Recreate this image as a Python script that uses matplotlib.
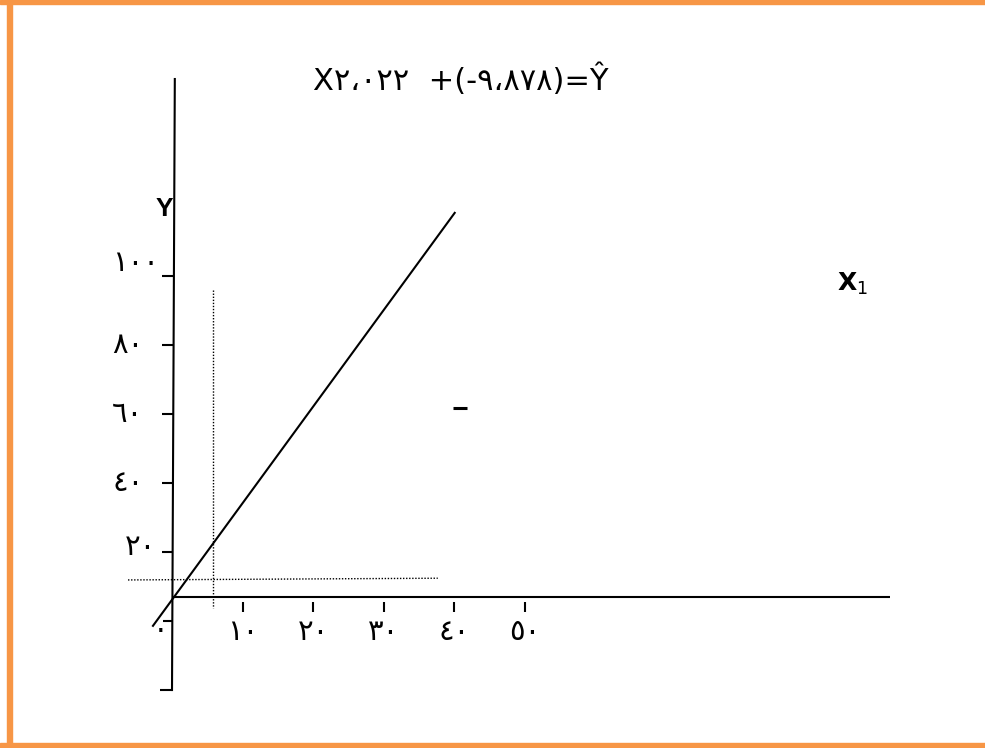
import matplotlib
matplotlib.use('Agg')
import matplotlib.pyplot as plt
from matplotlib.patches import Rectangle

plt.rcParams['font.family'] = ['DejaVu Sans']
plt.rcParams['mathtext.fontset'] = 'dejavusans'

# ---- data ----
y_tick_values = [-20, 0, 20, 40, 60, 80, 100]
y_tick_labels = ['', '', '٢٠', '٤٠', '٦٠', '٨٠', '١٠٠']
x_tick_values = [10, 20, 30, 40, 50]
x_tick_labels = ['١٠', '٢٠', '٣٠', '٤٠', '٥٠']
origin_label = '٠'
line_x = [-2.7, 40.1]
line_y = [-1.4, 118.3]
guide_x = 5.8
guide_y = 11.9
equation = 'X٢،٠٢٢  +(-٩،٨٧٨)=Ŷ'

# ---- figure ----
W, H = 985, 748
fig = plt.figure(figsize=(W / 100, H / 100), dpi=100)
ax = fig.add_axes([0, 0, 1, 1])
ax.axis('off')
sx, sy = 7.05, 3.45      # pixels per data unit
ox, oy = 172, 621        # pixel position of data (0, 0)
ax.set_xlim(-ox / sx, (W - ox) / sx)
ax.set_ylim((oy - H) / sy, oy / sy)

orange = '#F79646'
# border (top, left, bottom)
fig.patches.append(Rectangle((0, 1 - 4 / H), 1, 4 / H, transform=fig.transFigure,
                             color=orange, zorder=0))
fig.patches.append(Rectangle((7 / W, 0), 5 / W, 1, transform=fig.transFigure,
                             color=orange, zorder=0))
fig.patches.append(Rectangle((0, 0), 1, 5 / H, transform=fig.transFigure,
                             color=orange, zorder=0))

lw = 1.5
tick_fs = 21
# y axis
ax.plot([0.4, 0.0], [157.4, -20.3], color='black', lw=lw, solid_capstyle='butt')
# x axis
x_axis_level = 7.0
ax.plot([0, 101.8], [x_axis_level, x_axis_level], color='black', lw=lw,
        solid_capstyle='butt')

# y ticks
for v, lab in zip(y_tick_values, y_tick_labels):
    left = -1.42 if v > 0 else (-1.28 if v == 0 else -1.7)
    ax.plot([left, 0.2], [v, v], color='black', lw=lw, solid_capstyle='butt')
    if lab:
        dy = 3.8 if v == 100 else (1.5 if v == 20 else 0)
        lx = -6.7 if v == 20 else -8.5
        ax.text(lx, v + dy, lab, ha='left', va='center', fontsize=tick_fs)

# x ticks
for v, lab in zip(x_tick_values, x_tick_labels):
    ax.plot([v, v], [5.5, 2.6], color='black', lw=lw, solid_capstyle='butt')
    ax.text(v, -3.2, lab, ha='center', va='center', fontsize=tick_fs)
ax.text(-1.56, -2.6, origin_label, ha='center', va='center', fontsize=tick_fs)

# regression line
ax.plot(line_x, line_y, color='black', lw=lw)

# dotted guide lines
ax.plot([guide_x, guide_x], [95.9, 3.8], color='black', lw=1.0,
        linestyle=(0, (1, 1.2)))
ax.plot([-6.24, 37.7], [guide_y, guide_y + 0.5], color='black', lw=1.0,
        linestyle=(0, (1, 1.2)))

# small dash
ax.plot([39.86, 41.84], [61.7, 61.7], color='black', lw=2.2, solid_capstyle='butt')

# labels
ax.text(0.2, 119.5, 'Y', ha='right', va='center', fontsize=19, fontweight='bold',
        family='Liberation Sans')
ax.text(94.3, 97.8, r'$\mathbf{X}_{1}$', ha='left', va='center', fontsize=18)
ax.text(41.0, 156.8, equation, ha='center', va='center', fontsize=22)

fig.savefig('out.png', dpi=100)
